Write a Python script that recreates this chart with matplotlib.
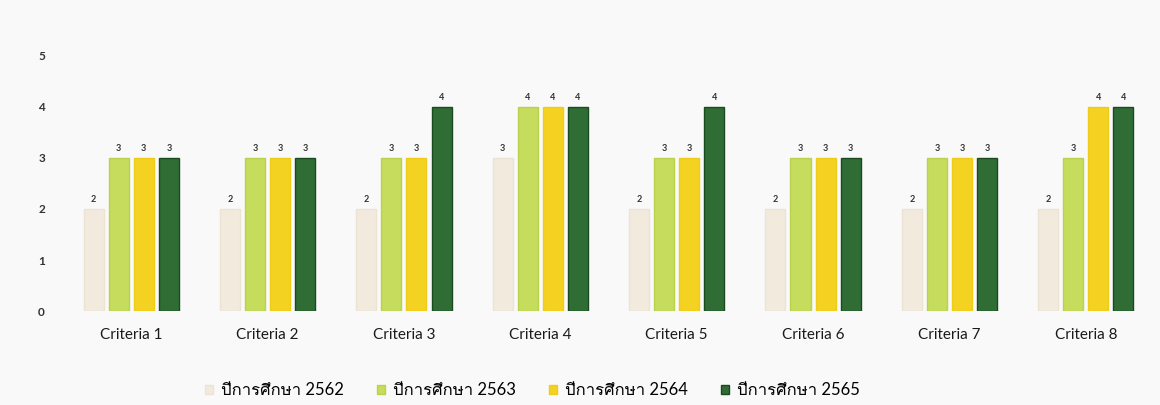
import matplotlib
matplotlib.use("Agg")
import matplotlib.pyplot as plt
from matplotlib import font_manager
from matplotlib.ft2font import FT2Font
import numpy as np

categories = ["Criteria 1", "Criteria 2", "Criteria 3", "Criteria 4",
              "Criteria 5", "Criteria 6", "Criteria 7", "Criteria 8"]
series_names = ["ปีการศึกษา 2562", "ปีการศึกษา 2563", "ปีการศึกษา 2564", "ปีการศึกษา 2565"]
y2562 = [2, 2, 2, 3, 2, 2, 2, 2]
y2563 = [3, 3, 3, 4, 3, 3, 3, 3]
y2564 = [3, 3, 3, 4, 3, 3, 3, 4]
y2565 = [3, 3, 4, 4, 4, 3, 3, 4]
colors = ["#f2eadc", "#c6dc5c", "#f4d222", "#2f6d35"]
edges = ["#ece3d4", "#b9d24e", "#efcc1a", "#1a4a20"]


def thai_font():
    ''' find an installed font that has Thai glyphs '''
    for f in font_manager.fontManager.ttflist:
        try:
            if 0x0E01 in FT2Font(f.fname).get_charmap():
                return f.name
        except Exception:
            pass
    return "DejaVu Sans"


thai = thai_font()
plt.rcParams["font.family"] = ["Lato", thai, "DejaVu Sans"]

fig = plt.figure(figsize=(11.6, 4.05), dpi=100, facecolor="#f9f9fa")
ax = fig.add_axes([0.0543, 0.232, 0.9405, 0.63])
ax.set_facecolor("#f9f9fa")

x = np.arange(len(categories))
w = 0.147
step = 0.184
for i, vals in enumerate([y2562, y2563, y2564, y2565]):
    pos = x + (i - 1.5) * step
    ax.bar(pos, vals, width=w, color=colors[i], edgecolor=edges[i],
           linewidth=1, label=series_names[i])
    for p, v in zip(pos, vals):
        ax.text(p, v + 0.1, str(v), ha="center", va="bottom",
                fontsize=6.5, fontweight="bold", color="#333333")

ax.set_xlim(-0.5, len(categories) - 0.5)
ax.set_ylim(0, 5)
ax.set_yticks(range(6))
ax.set_xticks(x)
ax.set_xticklabels(categories, fontsize=11, color="#1a1a1a")
ax.tick_params(axis="both", length=0)
ax.tick_params(axis="y", labelsize=8.5, labelcolor="#333333", pad=13)
ax.tick_params(axis="x", pad=12)
for lbl in ax.get_yticklabels():
    lbl.set_fontweight("bold")
for s in ax.spines.values():
    s.set_visible(False)

fig.legend(loc="lower center", bbox_to_anchor=(0.459, -0.02), ncol=4,
           frameon=False, fontsize=12, handlelength=0.45, handleheight=0.45,
           handletextpad=0.5, columnspacing=2.0)

fig.savefig("out.png", dpi=100, facecolor=fig.get_facecolor())
